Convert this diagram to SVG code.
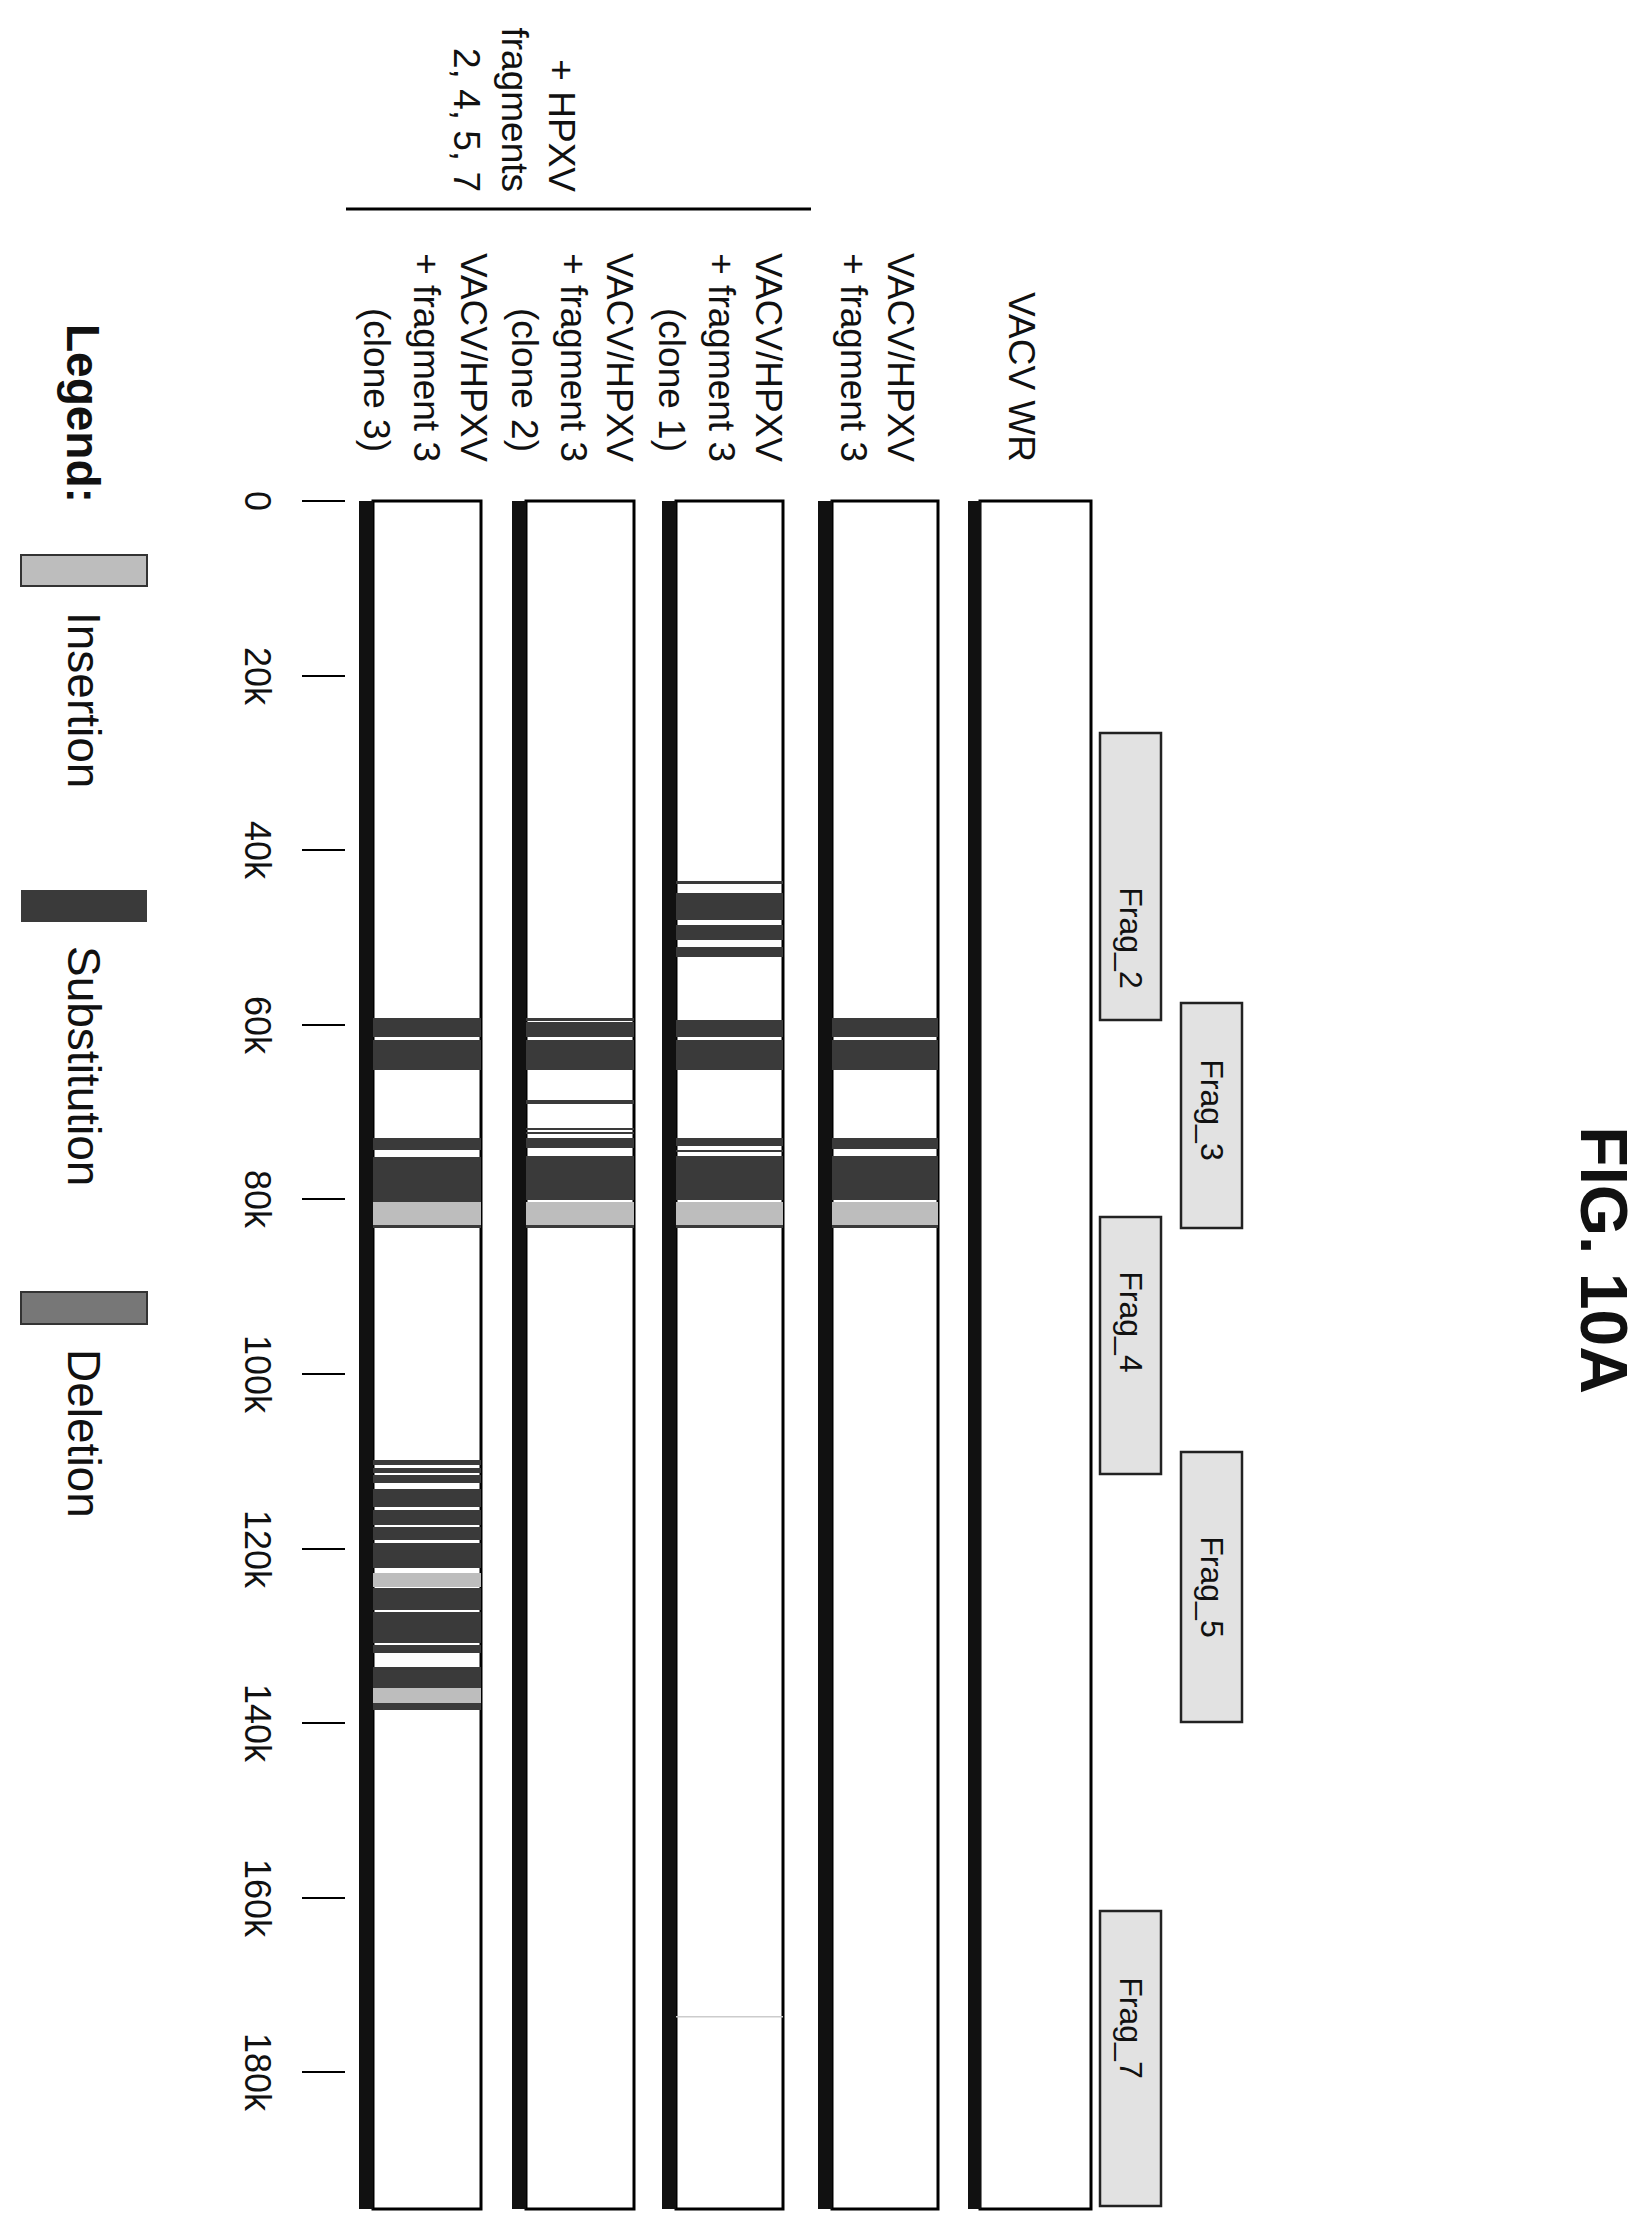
<svg xmlns="http://www.w3.org/2000/svg" width="1651" height="2239" viewBox="0 0 1651 2239">
<style>
text{font-family:"Liberation Sans",Arial,sans-serif;fill:#111}
.lb{font-size:37px;text-anchor:end}
.tk{font-size:36px;text-anchor:middle}
.fr{font-size:32px;text-anchor:middle}
.lg{font-size:46px}
.box{fill:#fff;stroke:#000;stroke-width:3}
.edge{fill:#111}
.s{fill:#3a3a3a}
.i{fill:#bdbdbd}
.d{fill:#777}
.frag{fill:#e2e2e2;stroke:#222;stroke-width:2.5}
.tick{stroke:#000;stroke-width:2}
</style>
<text transform="translate(1581,1260) rotate(90)" style="font-size:66px;font-weight:bold;text-anchor:middle">FIG. 10A</text>

<g id="top-label">
<text class="lb" transform="translate(549,192) rotate(90)">+ HPXV</text>
<text class="lb" transform="translate(502,192) rotate(90)">fragments</text>
<text class="lb" transform="translate(454,192) rotate(90)">2, 4, 5, 7</text>
<line x1="346" y1="209" x2="811" y2="209" stroke="#000" stroke-width="3"/>
</g>

<g id="axis">
<g class="tick">
<line x1="302" y1="501" x2="345" y2="501"/><line x1="302" y1="676" x2="345" y2="676"/>
<line x1="302" y1="850" x2="345" y2="850"/><line x1="302" y1="1025" x2="345" y2="1025"/>
<line x1="302" y1="1199" x2="345" y2="1199"/><line x1="302" y1="1374" x2="345" y2="1374"/>
<line x1="302" y1="1549" x2="345" y2="1549"/><line x1="302" y1="1723" x2="345" y2="1723"/>
<line x1="302" y1="1898" x2="345" y2="1898"/><line x1="302" y1="2072" x2="345" y2="2072"/>
</g>
<text class="tk" transform="translate(245,501) rotate(90)">0</text>
<text class="tk" transform="translate(245,676) rotate(90)">20k</text>
<text class="tk" transform="translate(245,850) rotate(90)">40k</text>
<text class="tk" transform="translate(245,1025) rotate(90)">60k</text>
<text class="tk" transform="translate(245,1199) rotate(90)">80k</text>
<text class="tk" transform="translate(245,1374) rotate(90)">100k</text>
<text class="tk" transform="translate(245,1549) rotate(90)">120k</text>
<text class="tk" transform="translate(245,1723) rotate(90)">140k</text>
<text class="tk" transform="translate(245,1898) rotate(90)">160k</text>
<text class="tk" transform="translate(245,2072) rotate(90)">180k</text>
</g>

<g id="track-wr">
<text class="lb" transform="translate(1009,462) rotate(90)">VACV WR</text>
<rect class="box" x="980" y="501" width="111" height="1708"/>
<rect class="edge" x="968" y="501" width="13" height="1708"/>
</g>

<g id="track-frag3">
<text class="lb" transform="translate(888,462) rotate(90)">VACV/HPXV</text>
<text class="lb" transform="translate(841,462) rotate(90)">+ fragment 3</text>
<rect class="box" x="832" y="501" width="106" height="1708"/>
<rect class="s" x="832" y="1018" width="106" height="19"/>
<rect class="s" x="832" y="1040" width="106" height="30"/>
<rect class="s" x="832" y="1138" width="106" height="11"/>
<rect class="s" x="832" y="1156" width="106" height="44"/>
<rect class="i" x="832" y="1202" width="106" height="24"/>
<rect class="s" x="832" y="1225" width="106" height="3"/>
<rect class="edge" x="818" y="501" width="14" height="1708"/>
</g>

<g id="track-clone1">
<text class="lb" transform="translate(756,462) rotate(90)">VACV/HPXV</text>
<text class="lb" transform="translate(709,462) rotate(90)">+ fragment 3</text>
<text class="lb" transform="translate(659,452) rotate(90)">(clone 1)</text>
<rect class="box" x="676" y="501" width="107" height="1708"/>
<rect class="s" x="676" y="881" width="107" height="3"/>
<rect class="s" x="676" y="893" width="107" height="27"/>
<rect class="s" x="676" y="925" width="107" height="15"/>
<rect class="s" x="676" y="947" width="107" height="10"/>
<rect class="s" x="676" y="1020" width="107" height="17"/>
<rect class="s" x="676" y="1040" width="107" height="30"/>
<rect class="s" x="676" y="1138" width="107" height="8"/>
<rect class="s" x="676" y="1150" width="107" height="2"/>
<rect class="s" x="676" y="1156" width="107" height="44"/>
<rect class="i" x="676" y="1202" width="107" height="24"/>
<rect class="s" x="676" y="1225" width="107" height="3"/>
<rect fill="#ccc" x="676" y="2016" width="107" height="1.5"/>
<rect class="edge" x="662" y="501" width="14" height="1708"/>
</g>

<g id="track-clone2">
<text class="lb" transform="translate(607,462) rotate(90)">VACV/HPXV</text>
<text class="lb" transform="translate(561,462) rotate(90)">+ fragment 3</text>
<text class="lb" transform="translate(512,452) rotate(90)">(clone 2)</text>
<rect class="box" x="526" y="501" width="108" height="1708"/>
<rect class="s" x="526" y="1018" width="108" height="3"/>
<rect class="s" x="526" y="1022" width="108" height="15"/>
<rect class="s" x="526" y="1040" width="108" height="30"/>
<rect class="s" x="526" y="1100" width="108" height="4"/>
<rect class="s" x="526" y="1128" width="108" height="2"/>
<rect class="s" x="526" y="1132" width="108" height="2"/>
<rect class="s" x="526" y="1138" width="108" height="10"/>
<rect class="s" x="526" y="1156" width="108" height="44"/>
<rect class="i" x="526" y="1202" width="108" height="24"/>
<rect class="s" x="526" y="1225" width="108" height="3"/>
<rect class="edge" x="512" y="501" width="14" height="1708"/>
</g>

<g id="track-clone3">
<text class="lb" transform="translate(461,462) rotate(90)">VACV/HPXV</text>
<text class="lb" transform="translate(414,462) rotate(90)">+ fragment 3</text>
<text class="lb" transform="translate(364,452) rotate(90)">(clone 3)</text>
<rect class="box" x="373" y="501" width="108" height="1708"/>
<rect class="s" x="373" y="1018" width="108" height="19"/>
<rect class="s" x="373" y="1040" width="108" height="30"/>
<rect class="s" x="373" y="1138" width="108" height="12"/>
<rect class="s" x="373" y="1157" width="108" height="45"/>
<rect class="i" x="373" y="1202" width="108" height="24"/>
<rect class="s" x="373" y="1225" width="108" height="3"/>
<rect class="s" x="373" y="1460" width="108" height="5"/>
<rect class="s" x="373" y="1468" width="108" height="5"/>
<rect class="s" x="373" y="1475" width="108" height="8"/>
<rect class="s" x="373" y="1489" width="108" height="18"/>
<rect class="s" x="373" y="1510" width="108" height="15"/>
<rect class="s" x="373" y="1527" width="108" height="13"/>
<rect class="s" x="373" y="1543" width="108" height="25"/>
<rect class="i" x="373" y="1573" width="108" height="14"/>
<rect class="s" x="373" y="1588" width="108" height="22"/>
<rect class="s" x="373" y="1612" width="108" height="31"/>
<rect class="s" x="373" y="1645" width="108" height="8"/>
<rect class="s" x="373" y="1667" width="108" height="21"/>
<rect class="i" x="373" y="1688" width="108" height="15"/>
<rect class="s" x="373" y="1703" width="108" height="7"/>
<rect class="edge" x="359" y="501" width="14" height="1708"/>
</g>

<g id="frag2"><rect class="frag" x="1100" y="733" width="61" height="287"/><text class="fr" transform="translate(1120,938) rotate(90)">Frag_2</text></g>
<g id="frag3"><rect class="frag" x="1181" y="1003" width="61" height="225"/><text class="fr" transform="translate(1201,1110) rotate(90)">Frag_3</text></g>
<g id="frag4"><rect class="frag" x="1100" y="1217" width="61" height="257"/><text class="fr" transform="translate(1120,1322) rotate(90)">Frag_4</text></g>
<g id="frag5"><rect class="frag" x="1181" y="1452" width="61" height="270"/><text class="fr" transform="translate(1201,1587) rotate(90)">Frag_5</text></g>
<g id="frag7"><rect class="frag" x="1100" y="1911" width="61" height="295"/><text class="fr" transform="translate(1120,2028) rotate(90)">Frag_7</text></g>

<g id="legend">
<text class="lg" transform="translate(67,324) rotate(90)" style="font-weight:bold">Legend:</text>
<rect class="i" x="21" y="555" width="126" height="31" stroke="#333" stroke-width="2"/>
<text class="lg" transform="translate(68,612) rotate(90)">Insertion</text>
<rect class="s" x="21" y="890" width="126" height="32"/>
<text class="lg" transform="translate(68,946) rotate(90)">Substitution</text>
<rect class="d" x="21" y="1292" width="126" height="32" stroke="#333" stroke-width="2"/>
<text class="lg" transform="translate(68,1349) rotate(90)">Deletion</text>
</g>
</svg>
